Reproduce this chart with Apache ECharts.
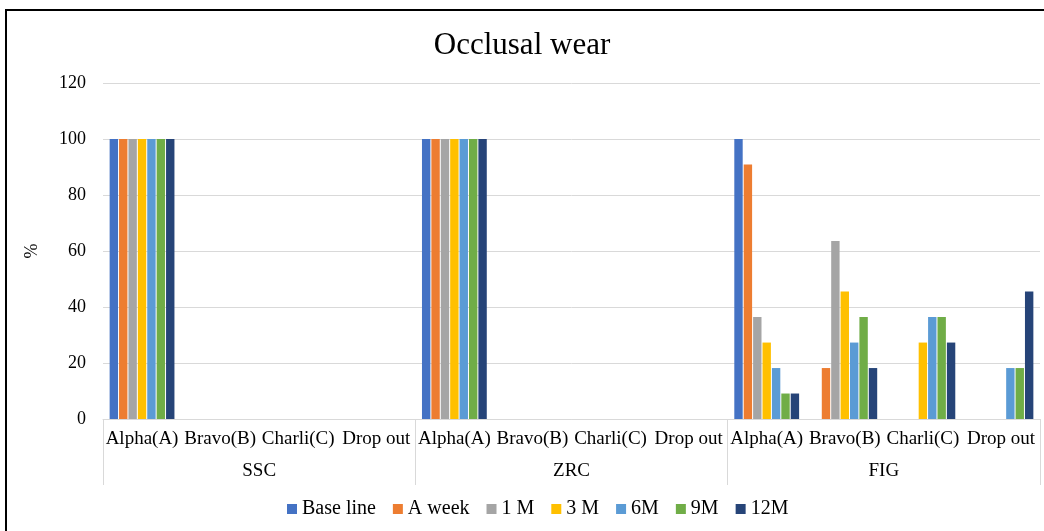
<!DOCTYPE html>
<html>
<head>
<meta charset="utf-8">
<script src="https://cdn.jsdelivr.net/npm/echarts@6/dist/echarts.min.js"></script>
<style>
  html, body { margin: 0; padding: 0; background: #fff; }
  #chart { width: 1044px; height: 531px; }
</style>
</head>
<body>
<div id="chart"></div>
<script>
// sub categories repeated per group
const subCategories = ['Alpha(A)', 'Bravo(B)', 'Charli(C)', 'Drop out'];
const groups = ['SSC', 'ZRC', 'FIG'];
const categories = groups.flatMap(() => subCategories);
const yTicks = [0, 20, 40, 60, 80, 100, 120];

// % per time point, order: SSC(A,B,C,Drop) ZRC(A,B,C,Drop) FIG(A,B,C,Drop)
const baseLine = [100, 0, 0, 0, 100, 0, 0, 0, 100, 0, 0, 0];
const aWeek    = [100, 0, 0, 0, 100, 0, 0, 0, 90.9, 18.2, 0, 0];
const m1       = [100, 0, 0, 0, 100, 0, 0, 0, 36.4, 63.6, 0, 0];
const m3       = [100, 0, 0, 0, 100, 0, 0, 0, 27.3, 45.5, 27.3, 0];
const m6       = [100, 0, 0, 0, 100, 0, 0, 0, 18.2, 27.3, 36.4, 18.2];
const m9       = [100, 0, 0, 0, 100, 0, 0, 0, 9.1, 36.4, 36.4, 18.2];
const m12      = [100, 0, 0, 0, 100, 0, 0, 0, 9.1, 18.2, 27.3, 45.5];

const seriesDefs = [
  { name: 'Base line', data: baseLine, color: '#4472C4' },
  { name: 'A week', data: aWeek, color: '#ED7D31' },
  { name: '1 M', data: m1, color: '#A5A5A5' },
  { name: '3 M', data: m3, color: '#FFC000' },
  { name: '6M', data: m6, color: '#5B9BD5' },
  { name: '9M', data: m9, color: '#70AD47' },
  { name: '12M', data: m12, color: '#264478' },
];

const font = '"Liberation Serif", "Times New Roman", serif';
const chart = echarts.init(document.getElementById('chart'));

chart.setOption({
  animation: false,
  backgroundColor: '#fff',
  textStyle: { fontFamily: font },
  title: {
    text: 'Occlusal wear',
    left: 'center',
    top: 25,
    textStyle: { fontFamily: font, fontSize: 31, fontWeight: 'normal', color: '#000' },
  },
  graphic: [{
    type: 'rect',
    shape: { x: 6, y: 10, width: 1060, height: 560 },
    style: { fill: 'none', stroke: '#000', lineWidth: 2 },
    silent: true,
  }],
  legend: {
    bottom: 7,
    left: 282,
    icon: 'rect',
    itemWidth: 10,
    itemHeight: 10,
    itemGap: 17,
    textStyle: { fontFamily: font, fontSize: 20, color: '#000' },
  },
  grid: { left: 103, right: 4, top: 83, bottom: 112 },
  xAxis: [
    {
      type: 'category',
      data: categories,
      axisLine: { lineStyle: { color: '#d9d9d9' } },
      axisTick: { show: false },
      axisLabel: { interval: 0, color: '#000', fontSize: 19, margin: 11, fontFamily: font },
    },
    {
      type: 'category',
      data: groups,
      position: 'bottom',
      axisLine: { show: false },
      axisTick: { show: true, length: 66, lineStyle: { color: '#d9d9d9' } },
      axisLabel: { interval: 0, color: '#000', fontSize: 19, margin: 43, fontFamily: font },
      splitLine: { show: false },
    },
  ],
  yAxis: {
    type: 'value',
    min: yTicks[0],
    max: yTicks[yTicks.length - 1],
    interval: 20,
    name: '%',
    nameLocation: 'middle',
    nameRotate: 90,
    nameGap: 62,
    nameTextStyle: { fontFamily: font, fontSize: 18, color: '#000' },
    axisLine: { show: false },
    axisTick: { show: false },
    axisLabel: { color: '#000', fontSize: 18, margin: 17, fontFamily: font },
    splitLine: { lineStyle: { color: '#d9d9d9' } },
  },
  series: seriesDefs.map((s) => ({
    name: s.name,
    type: 'bar',
    data: s.data,
    xAxisIndex: 0,
    barGap: '12%',
    barCategoryGap: '17%',
    itemStyle: { color: s.color },
  })),
});
</script>
</body>
</html>
